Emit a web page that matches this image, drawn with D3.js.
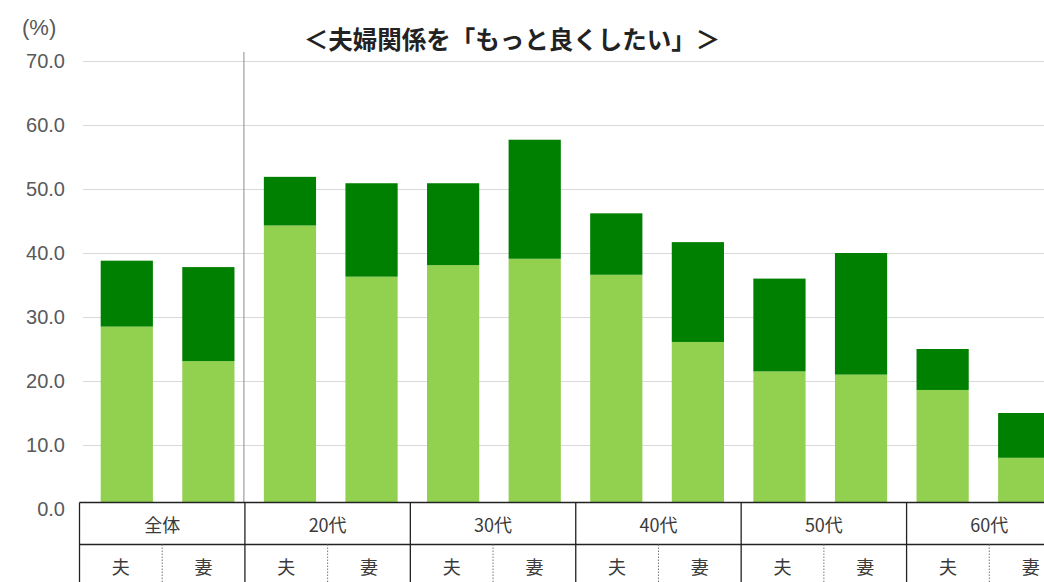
<!DOCTYPE html>
<html><head><meta charset="utf-8">
<script src="https://cdn.jsdelivr.net/npm/d3@7/dist/d3.min.js"></script>
<style>body{margin:0;background:#fff}svg{display:block}</style>
</head><body><svg id="c" width="1044" height="582"></svg>
<script>
const title = "＜夫婦関係を「もっと良くしたい」＞";
const groups = ["全体","20代","30代","40代","50代","60代"];
const persons = ["夫","妻"];
const lowerValues = [28.5, 23.1, 44.3, 36.3, 38.1, 39.1, 36.6, 26.1, 21.5, 21.0, 18.6, 8.0];
const upperValues = [10.3, 14.7, 7.6, 14.6, 12.8, 18.6, 9.6, 15.6, 14.5, 19.0, 6.4, 7.0];
const yTicks = [0,10,20,30,40,50,60,70];

const svg = d3.select("#c");
const keys = [];
groups.forEach(g => persons.forEach(p => keys.push(g + "|" + p)));
const rows = keys.map((k,i) => ({key:k, lower:lowerValues[i], upper:upperValues[i]}));

const y = d3.scaleLinear().domain([0,70]).range([509,61]);
const x = d3.scaleBand().domain(keys).range([86,1065]).paddingInner(0.36).paddingOuter(0.18);
const xt = d3.scaleBand().domain(groups).range([79.5,1072]);

// gridlines
svg.append("g").selectAll("line").data(yTicks.filter(d=>d>0)).join("line")
  .attr("x1",83).attr("x2",1044).attr("y1",d=>Math.round(y(d))+0.5).attr("y2",d=>Math.round(y(d))+0.5)
  .attr("stroke","#d9d9d9").attr("stroke-width",1.2);

// y axis labels
const ya = svg.append("g").attr("transform","translate(65,0)")
  .call(d3.axisLeft(y).tickValues(yTicks).tickFormat(d3.format(".1f")).tickSize(0).tickPadding(0));
ya.select(".domain").remove();
ya.selectAll("text").attr("font-family","Liberation Sans, Arial, sans-serif").attr("font-size",20).attr("fill","#595959");

svg.append("text").attr("x",22).attr("y",35).attr("font-family","Liberation Sans, Arial, sans-serif")
  .attr("font-size",22).attr("fill","#595959").text("(%)");

// separator line
svg.append("line").attr("x1",xt("20代")-1).attr("x2",xt("20代")-1).attr("y1",52).attr("y2",502)
  .attr("stroke","#8c8c8c").attr("stroke-width",1);

// stacked bars
const stack = d3.stack().keys(["lower","upper"])(rows);
const colors = {lower:"#92d050", upper:"#008000"};
svg.append("g").selectAll("g").data(stack).join("g").attr("fill",d=>colors[d.key])
  .selectAll("rect").data(d=>d).join("rect")
  .attr("x",d=>x(d.data.key)).attr("width",x.bandwidth())
  .attr("y",d=>y(d[1])).attr("height",d=>y(d[0])-y(d[1]));

// table
const tbl = svg.append("g");
tbl.append("rect").attr("x",79.5).attr("y",502.5).attr("width",1000).attr("height",100).attr("fill","#fff");
tbl.append("line").attr("x1",79.5).attr("x2",1044).attr("y1",502.5).attr("y2",502.5).attr("stroke","#222").attr("stroke-width",1.3);
tbl.append("line").attr("x1",79.5).attr("x2",1044).attr("y1",544.5).attr("y2",544.5).attr("stroke","#222").attr("stroke-width",1.3);
tbl.selectAll("line.v").data(groups).join("line").attr("class","v")
  .attr("x1",d=>xt(d)).attr("x2",d=>xt(d)).attr("y1",502.5).attr("y2",582)
  .attr("stroke","#222").attr("stroke-width",1.3);
tbl.selectAll("line.d").data(groups).join("line").attr("class","d")
  .attr("x1",d=>xt(d)+xt.bandwidth()/2).attr("x2",d=>xt(d)+xt.bandwidth()/2).attr("y1",544.5).attr("y2",582)
  .attr("stroke","#777").attr("stroke-width",1).attr("stroke-dasharray","1.5,1.5");
const fontJP = "Noto Sans CJK JP, sans-serif";
tbl.selectAll("text.g").data(groups).join("text").attr("class","g")
  .attr("x",d=>xt(d)+xt.bandwidth()/2).attr("y",524).attr("text-anchor","middle").attr("dominant-baseline","central")
  .attr("font-family",fontJP).attr("font-size",18).attr("fill","#3a3a3a").text(d=>d);
const cells = [];
groups.forEach(g => persons.forEach((p,j) => cells.push({g,p,j})));
tbl.selectAll("text.p").data(cells).join("text").attr("class","p")
  .attr("x",d=>xt(d.g)+xt.bandwidth()*(d.j*0.5+0.25)).attr("y",566).attr("text-anchor","middle").attr("dominant-baseline","central")
  .attr("font-family",fontJP).attr("font-size",18).attr("fill","#3a3a3a").text(d=>d.p);

// title
svg.append("text").attr("x",512).attr("y",38).attr("text-anchor","middle").attr("dominant-baseline","central")
  .attr("font-family",fontJP).attr("font-weight","bold").attr("font-size",24.5).attr("fill","#222").text(title);
</script></body></html>
